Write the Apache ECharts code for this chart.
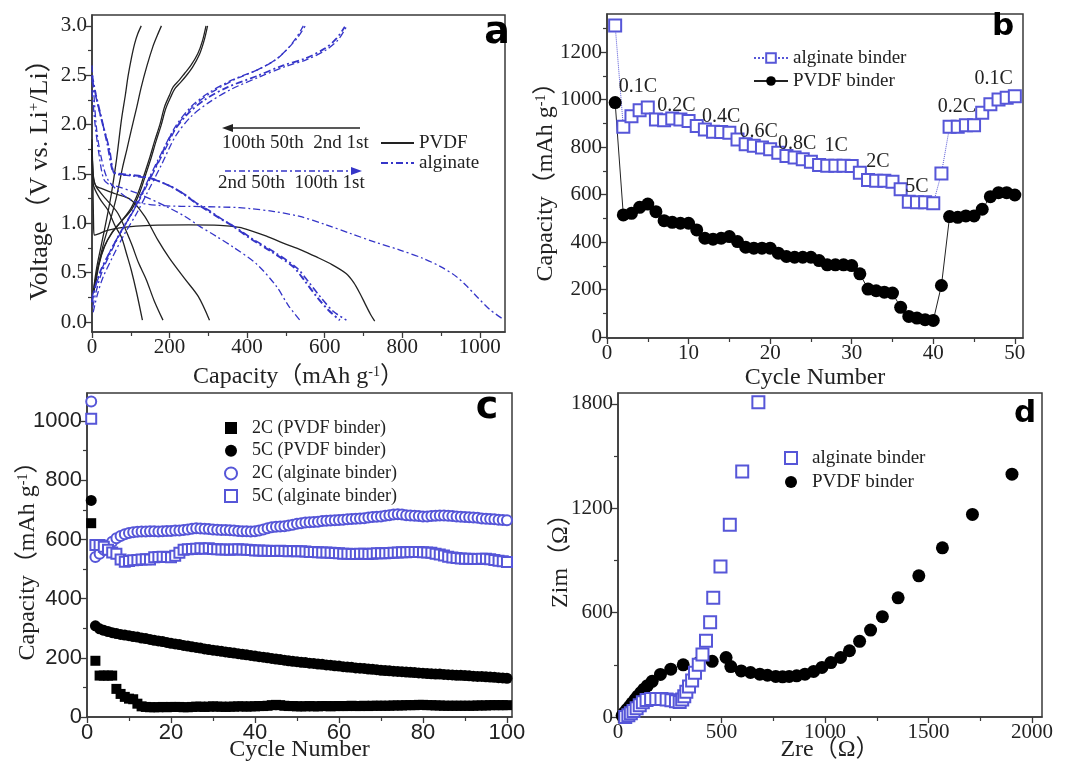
<!DOCTYPE html>
<html><head><meta charset="utf-8">
<script src="https://cdn.jsdelivr.net/npm/echarts@6/dist/echarts.min.js"></script>
<style>html,body{margin:0;padding:0;background:#fff}#c{width:1068px;height:767px}</style>
</head><body><div id="c"></div>
<script>
// ---------- Panel a: voltage profiles [capacity, voltage] ----------
const pvdfD1 = [[0,1.85],[2,1.5],[4,1.0],[6,0.88],[15,0.89],[40,0.93],[80,0.96],[150,0.98],[250,0.985],[330,0.98],[380,0.96],[407,0.93],[450,0.87],[493,0.80],[540,0.73],[579,0.66],[620,0.58],[656,0.49],[675,0.4],[691,0.29],[705,0.18],[718,0.08],[729,0.01]];
const pvdfD2 = [[0,1.8],[3,1.5],[10,1.38],[24,1.355],[60,1.3],[100,1.24],[136,1.07],[170,0.83],[200,0.645],[239,0.44],[274,0.26],[303,0.02]];
const pvdfD50 = [[0,1.75],[4,1.45],[11,1.37],[35,1.25],[67,1.10],[101,0.80],[120,0.6],[140,0.43],[160,0.22],[183,0.02]];
const pvdfD100 = [[0,1.7],[3,1.4],[20,1.25],[41,1.135],[60,0.97],[76,0.86],[90,0.68],[101,0.53],[115,0.3],[130,0.02]];
const pvdfC1 = [[5,0.3],[15,0.55],[30,0.75],[50,0.9],[75,1.02],[100,1.15],[120,1.32],[136,1.51],[150,1.68],[162,1.84],[175,2.0],[187,2.18],[200,2.3],[209,2.38],[225,2.45],[239,2.52],[255,2.6],[273,2.72],[285,2.85],[294,3.0]];
const pvdfC2 = [[8,0.35],[18,0.58],[33,0.77],[53,0.91],[78,1.03],[102,1.14],[122,1.3],[139,1.5],[153,1.67],[165,1.83],[178,1.99],[190,2.16],[203,2.28],[213,2.36],[229,2.43],[244,2.5],[259,2.58],[277,2.71],[289,2.85],[298,3.0]];
const pvdfC50 = [[5,0.35],[15,0.55],[30,0.8],[45,1.0],[62,1.25],[79,1.57],[90,1.75],[101,1.94],[115,2.17],[127,2.38],[142,2.6],[157,2.79],[168,2.9],[179,3.0]];
const pvdfC100 = [[3,0.3],[12,0.55],[25,0.8],[38,1.05],[50,1.3],[63,1.64],[76,2.05],[86,2.3],[93,2.49],[102,2.68],[110,2.82],[118,2.92],[127,3.0]];
const algD1 = [[0,2.6],[5,2.3],[12,1.95],[22,1.7],[40,1.45],[70,1.32],[110,1.22],[180,1.18],[280,1.17],[380,1.16],[407,1.15],[470,1.12],[536,1.07],[600,0.99],[665,0.90],[730,0.81],[794,0.73],[854,0.645],[900,0.56],[940,0.46],[965,0.37],[992,0.26],[1025,0.13],[1060,0.03]];
const algD2 = [[0,2.35],[8,2.0],[18,1.7],[30,1.45],[45,1.39],[60,1.38],[120,1.3],[192,1.17],[240,1.07],[278,0.97],[320,0.87],[364,0.76],[424,0.59],[476,0.36],[506,0.17],[536,0.02]];
const algD50 = [[0,2.5],[10,2.3],[25,2.05],[40,1.8],[52,1.55],[59,1.51],[100,1.49],[149,1.46],[200,1.38],[235,1.30],[270,1.2],[296,1.135],[330,1.05],[364,0.97],[407,0.85],[460,0.72],[519,0.56],[550,0.41],[579,0.26],[610,0.12],[639,0.02]];
const algD100 = [[0,2.45],[12,2.25],[28,2.0],[45,1.75],[55,1.52],[62,1.5],[105,1.48],[155,1.45],[205,1.37],[240,1.29],[275,1.19],[302,1.13],[336,1.04],[370,0.96],[415,0.84],[470,0.71],[528,0.55],[560,0.4],[590,0.25],[622,0.11],[656,0.02]];
const algC1 = [[2,0.15],[10,0.3],[25,0.5],[50,0.72],[80,0.95],[110,1.15],[140,1.4],[175,1.68],[215,1.98],[255,2.18],[300,2.32],[360,2.45],[424,2.55],[470,2.65],[500,2.75],[525,2.87],[545,3.0]];
const algC2 = [[0,0.25],[12,0.4],[30,0.58],[55,0.78],[88,1.0],[120,1.22],[150,1.45],[185,1.72],[225,2.02],[265,2.2],[310,2.33],[370,2.46],[430,2.56],[475,2.66],[505,2.77],[530,2.88],[550,3.0]];
const algC3 = [[0,0.2],[8,0.35],[22,0.52],[45,0.7],[75,0.92],[105,1.12],[135,1.35],[170,1.62],[205,1.9],[245,2.1],[290,2.25],[350,2.38],[424,2.49],[493,2.6],[550,2.67],[600,2.77],[630,2.87],[652,2.99]];
const algC4 = [[3,0.1],[14,0.28],[28,0.45],[52,0.65],[82,0.88],[115,1.1],[145,1.33],[180,1.6],[215,1.88],[255,2.08],[300,2.22],[360,2.36],[430,2.48],[500,2.59],[555,2.66],[605,2.76],[635,2.86],[656,2.99]];

// ---------- Panel b: rate capability ----------
const bAlginate = [1312,885,930,955,966,916,913,920,916,910,888,874,864,863,860,832,812,805,798,791,776,762,756,748,738,724,721,721,721,720,692,661,658,658,654,622,570,567,567,563,689,885,885,892,892,944,980,1000,1007,1014];
const bPVDF = [987,514,521,546,560,528,490,483,479,479,451,416,412,416,423,402,378,374,374,374,353,339,336,336,336,322,304,304,304,301,266,202,195,189,185,125,87,80,73,70,217,507,504,510,510,538,591,608,608,598];
const bRateLabels = ['0.1C','0.2C','0.4C','0.6C','0.8C','1C','2C','5C','0.2C','0.1C'];
const bRateX = [3.8,8.5,14.0,18.6,23.3,28.1,33.2,38.0,42.9,47.4];
const bRateY = [1053,973,926,863,813,804,737,632,968,1086];

// ---------- Panel c: long cycling ----------
const cPVDF2C = [655,190,140,140,140,140,95,78,68,62,60,45,36,34,33,33,33,34,33,34,34,34,33,33,34,35,35,34,35,36,35,35,34,35,35,36,36,35,36,36,37,37,38,40,41,40,38,37,37,36,36,36,37,36,36,37,37,36,37,37,37,37,38,37,37,38,37,38,38,38,38,38,39,39,39,40,40,40,41,41,40,40,39,39,38,38,38,38,38,38,38,38,39,39,39,40,40,40,40,40];
const cPVDF5C = [732,308,298,293,289,285,282,279,277,275,272,270,267,265,262,259,257,255,252,249,247,245,242,240,237,235,233,230,228,226,224,222,220,218,216,214,212,210,208,206,204,202,200,198,196,194,192,190,188,187,185,184,182,181,179,178,176,175,173,172,170,169,168,166,165,164,162,161,160,158,157,156,155,154,153,152,151,150,149,148,147,146,145,145,144,143,142,141,141,140,139,138,137,137,136,135,134,133,132,131];
const cAlg2C = [1066,541,552,565,580,592,604,612,618,622,624,626,627,627,628,628,627,628,629,629,630,630,632,634,636,638,637,636,635,634,633,632,632,631,630,629,628,628,627,628,630,634,638,641,643,644,645,647,650,653,655,657,658,659,660,662,663,664,665,666,667,668,669,670,671,672,674,676,677,678,680,682,684,685,684,682,681,680,679,678,678,679,680,681,681,680,679,678,677,676,675,674,673,671,670,669,668,667,666,665];
const cAlg5C = [1008,581,581,575,565,556,552,532,525,527,530,531,532,533,532,540,541,542,541,540,545,555,565,567,568,569,570,569,570,568,567,566,566,565,566,567,566,565,564,563,563,562,562,561,561,562,561,560,561,560,560,559,558,558,557,556,556,555,554,553,552,552,551,551,552,552,551,552,553,553,553,554,555,556,557,557,558,558,558,557,556,555,552,549,546,542,539,537,536,535,535,534,534,535,535,533,531,528,526,524];

// ---------- Panel d: Nyquist ----------
const dAlgZre = [35,50,62,75,90,105,120,138,160,185,210,235,258,280,298,310,320,330,343,358,372,390,408,425,445,460,495,540,600,678];
const dAlgZim = [0,10,22,35,50,68,85,98,103,104,103,100,96,90,86,100,120,145,175,210,255,300,360,438,545,685,865,1105,1412,1810];
const dPvdfZre = [20,30,42,55,68,82,95,110,125,142,165,205,255,315,390,455,522,545,595,640,685,722,762,795,827,863,903,945,985,1028,1075,1118,1167,1220,1277,1353,1453,1567,1712,1903];
const dPvdfZim = [8,25,42,60,80,100,120,140,160,180,205,245,275,300,313,320,342,290,265,256,246,240,233,231,233,237,246,262,285,313,342,381,435,500,577,685,812,973,1165,1396];

// ---------- tick labels ----------
const aXTicks = [0,200,400,600,800,1000], aXMinor = [100,300,500,700,900];
const aYTicks = [0,0.5,1.0,1.5,2.0,2.5,3.0], aYMinor = [0.25,0.75,1.25,1.75,2.25,2.75];
const bXTicks = [0,10,20,30,40,50], bXMinor = [5,15,25,35,45];
const bYTicks = [0,200,400,600,800,1000,1200], bYMinor = [100,300,500,700,900,1100,1300];
const cXTicks = [0,20,40,60,80,100], cXMinor = [10,30,50,70,90];
const cYTicks = [0,200,400,600,800,1000], cYMinor = [100,300,500,700,900];
const dXTicks = [0,500,1000,1500,2000], dXMinor = [250,750,1250,1750];
const dYTicks = [0,600,1200,1800], dYMinor = [300,900,1500];

const SERIF = "'Liberation Serif','Times New Roman','Noto Sans CJK SC',serif";
const SANS = "'Liberation Sans',Arial,sans-serif";
const AX = '#3a3a3a';
const LBLUE = '#3535c8';
const MBLUE = '#5656d8';
const TXT = '#222';

function rich(sz){ return {t:{fontFamily:SERIF,fontSize:sz,color:TXT},s:{fontFamily:SERIF,fontSize:Math.round(sz*0.58),color:TXT,verticalAlign:'top'}}; }

function mkAxes(dim, g, o){
  const pos = dim==='x' ? 'bottom' : 'left';
  const common = {type:'value', gridIndex:g, min:o.min, max:o.max, position:pos, splitLine:{show:false}};
  const main = Object.assign({}, common, {
    axisLine:{show:true,onZero:false,lineStyle:{color:AX,width:1.5}},
    axisTick:{show:true,inside:false,length:6,customValues:o.major,lineStyle:{color:AX,width:1.3}},
    axisLabel:{show:true,customValues:o.major,formatter:o.fmt,fontFamily:o.font,fontSize:o.size,color:TXT,margin:o.margin||5},
    name:o.name, nameLocation:'middle', nameGap:o.gap, nameRotate:o.rotate||0, nameMoveOverlap:false,
    nameTextStyle:{rich:rich(o.nsize||24)}
  });
  const minor = Object.assign({}, common, {
    axisLine:{show:false,onZero:false},
    axisTick:{show:true,inside:false,length:4,customValues:o.minor,lineStyle:{color:AX,width:1.2}},
    axisLabel:{show:false}
  });
  return [main, minor];
}
const intFmt = v => String(Math.round(v));
const xAxes = [].concat(
  mkAxes('x',0,{min:0,max:1065,major:aXTicks,minor:aXMinor,fmt:intFmt,font:SERIF,size:21,name:'{t|Capacity（mAh g}{s|-1}{t|）}',gap:33}),
  mkAxes('x',1,{min:0,max:51,major:bXTicks,minor:bXMinor,fmt:intFmt,font:SERIF,size:21,name:'{t|Cycle Number}',gap:28}),
  mkAxes('x',2,{min:0,max:101.2,major:cXTicks,minor:cXMinor,fmt:intFmt,font:SANS,size:22,name:'{t|Cycle Number}',gap:21}),
  mkAxes('x',3,{min:0,max:2048,major:dXTicks,minor:dXMinor,fmt:intFmt,font:SERIF,size:21,name:'{t|Zre（Ω）}',gap:21})
);
const yAxes = [].concat(
  mkAxes('y',0,{min:-0.1,max:3.11,major:aYTicks,minor:aYMinor,fmt:v=>v.toFixed(1),font:SERIF,size:21,name:'{t|Voltage（V vs. Li}{s|+}{t|/Li）}',gap:39,rotate:90,nsize:26}),
  mkAxes('y',1,{min:-4,max:1360,major:bYTicks,minor:bYMinor,fmt:intFmt,font:SERIF,size:21,name:'{t|Capacity（mAh g}{s|-1}{t|）}',gap:49,rotate:90}),
  mkAxes('y',2,{min:0,max:1095,major:cYTicks,minor:cYMinor,fmt:intFmt,font:SANS,size:22,name:'{t|Capacity（mAh g}{s|-1}{t|）}',gap:47,rotate:90}),
  mkAxes('y',3,{min:0,max:1863,major:dYTicks,minor:dYMinor,fmt:intFmt,font:SERIF,size:21,name:'{t|Zim（Ω）}',gap:45,rotate:90})
);

const gridBase = {show:true,borderColor:AX,borderWidth:1.5,backgroundColor:'#fff',containLabel:false,outerBoundsMode:'none'};
const grids = [
  Object.assign({left:92,top:15,width:413,height:317},gridBase),
  Object.assign({left:607,top:14,width:416,height:324},gridBase),
  Object.assign({left:87,top:393,width:425,height:324},gridBase),
  Object.assign({left:618,top:393,width:424,height:324},gridBase)
];

function curve(name, data, color, width, type){
  return {type:'line', name, xAxisIndex:0, yAxisIndex:0, data, smooth:0.3, symbol:'none', showSymbol:false,
    lineStyle:{color, width, type}, itemStyle:{color}, silent:true};
}
const DASHDOT = [7,3,2,3];
const series = [
  curve('PVDF', pvdfD1, TXT, 1.3, 'solid'),
  curve('PVDF', pvdfD2, TXT, 1.3, 'solid'),
  curve('PVDF', pvdfD50, TXT, 1.3, 'solid'),
  curve('PVDF', pvdfD100, TXT, 1.3, 'solid'),
  curve('PVDF', pvdfC1, TXT, 1.3, 'solid'),
  curve('PVDF', pvdfC2, TXT, 1.3, 'solid'),
  curve('PVDF', pvdfC50, TXT, 1.3, 'solid'),
  curve('PVDF', pvdfC100, TXT, 1.3, 'solid'),
  curve('alginate', algD1, LBLUE, 1.3, DASHDOT),
  curve('alginate', algD2, LBLUE, 1.3, DASHDOT),
  curve('alginate', algD50, LBLUE, 2, DASHDOT),
  curve('alginate', algD100, LBLUE, 1.6, DASHDOT),
  curve('alginate', algC1, LBLUE, 1.3, DASHDOT),
  curve('alginate', algC2, LBLUE, 1.3, DASHDOT),
  curve('alginate', algC3, LBLUE, 1.8, DASHDOT),
  curve('alginate', algC4, LBLUE, 1.3, DASHDOT)
];
const cyc50 = bAlginate.map((_, i) => i + 1);
series.push({type:'line', name:'alginate binder', xAxisIndex:2, yAxisIndex:2,
  data:bAlginate.map((v,i)=>[cyc50[i],v]), symbol:'emptyRect', symbolSize:12,
  lineStyle:{color:MBLUE,width:1,type:'dotted'}, itemStyle:{color:MBLUE,borderWidth:1.3,opacity:1}, z:3});
series.push({type:'line', name:'PVDF binder', xAxisIndex:2, yAxisIndex:2,
  data:bPVDF.map((v,i)=>[cyc50[i],v]), symbol:'circle', symbolSize:13,
  lineStyle:{color:TXT,width:1}, itemStyle:{color:'#000',opacity:1}, z:3});
series.push({type:'scatter', name:'rates', xAxisIndex:2, yAxisIndex:2, silent:true, z:5,
  data:bRateLabels.map((t,i)=>[bRateX[i],bRateY[i],t]), symbolSize:1, itemStyle:{color:'rgba(0,0,0,0)'},
  label:{show:true,position:'inside',formatter:p=>p.data[2],fontFamily:SERIF,fontSize:20,color:TXT,opacity:1}});

const cyc100 = cPVDF2C.map((_, i) => i + 1);
function cSer(name, arr, symbol, size, color){
  return {type:'scatter', name, xAxisIndex:4, yAxisIndex:4, data:arr.map((v,i)=>[cyc100[i],v]),
    symbol, symbolSize:size, itemStyle:{color, borderWidth:1.2, opacity:1}};
}
series.push(cSer('2C (PVDF binder)', cPVDF2C, 'rect', 10, '#000'));
series.push(cSer('5C (PVDF binder)', cPVDF5C, 'circle', 11, '#000'));
series.push(cSer('2C (alginate binder)', cAlg2C, 'emptyCircle', 10, MBLUE));
series.push(cSer('5C (alginate binder)', cAlg5C, 'emptyRect', 10, MBLUE));

series.push({type:'scatter', name:'alginate binder ', xAxisIndex:6, yAxisIndex:6,
  data:dAlgZre.map((x,i)=>[x,dAlgZim[i]]), symbol:'emptyRect', symbolSize:12, itemStyle:{color:MBLUE,borderWidth:1.3,opacity:1}, z:3});
series.push({type:'scatter', name:'PVDF binder ', xAxisIndex:6, yAxisIndex:6,
  data:dPvdfZre.map((x,i)=>[x,dPvdfZim[i]]), symbol:'circle', symbolSize:13, itemStyle:{color:'#000',opacity:1}, z:2});

const legTxt = sz => ({fontFamily:SERIF,fontSize:sz,color:TXT,lineHeight:20});
const legends = [
  {data:['PVDF','alginate'], orient:'vertical', left:380, top:133, itemWidth:33, itemHeight:10, itemGap:0, padding:0, selectedMode:false, itemStyle:{opacity:0}, textStyle:legTxt(19)},
  {data:['alginate binder','PVDF binder'], orient:'vertical', left:753, top:48, itemWidth:34, itemHeight:12, itemGap:3, padding:0, selectedMode:false, textStyle:legTxt(19)},
  {data:['2C (PVDF binder)','5C (PVDF binder)','2C (alginate binder)','5C (alginate binder)'], orient:'vertical', left:224, top:418, itemWidth:12, itemHeight:12, itemGap:2.7, padding:0, selectedMode:false, textStyle:Object.assign(legTxt(18),{padding:[0,0,0,10]})},
  {data:['alginate binder ','PVDF binder '], orient:'vertical', left:784, top:448, itemWidth:12, itemHeight:12, itemGap:4, padding:0, selectedMode:false, formatter:n=>n.trim(), textStyle:Object.assign(legTxt(19),{padding:[0,0,0,10]})}
];

const letter = (t,x,y,sz) => ({type:'text', x, y, style:{text:t, font:'bold '+sz+'px "DejaVu Sans"', fill:'#000', textAlign:'center', textVerticalAlign:'middle'}, z:50});
const graphics = [
  letter('a',497,33,38), letter('b',1003,27,31), letter('c',487,408,38), letter('d',1025,414,31),
  {type:'line', shape:{x1:230,y1:128,x2:360,y2:128}, style:{stroke:'#222',lineWidth:1.5}, z:50},
  {type:'polygon', shape:{points:[[222,128],[233,124],[233,132]]}, style:{fill:'#222'}, z:50},
  {type:'line', shape:{x1:225,y1:171,x2:354,y2:171}, style:{stroke:LBLUE,lineWidth:1.5,lineDash:[6,3,2,3]}, z:50},
  {type:'polygon', shape:{points:[[362,171],[351,167],[351,175]]}, style:{fill:LBLUE}, z:50},
  {type:'text', x:222, y:143, style:{text:'100th 50th  2nd 1st', font:'19px '+SERIF, fill:TXT, textVerticalAlign:'middle'}, z:50},
  {type:'text', x:218, y:183, style:{text:'2nd 50th  100th 1st', font:'19px '+SERIF, fill:TXT, textVerticalAlign:'middle'}, z:50}
];

const chart = echarts.init(document.getElementById('c'), null, {renderer:'canvas'});
chart.setOption({
  animation:false, backgroundColor:'#fff',
  grid:grids, xAxis:xAxes, yAxis:yAxes, legend:legends, series, graphic:graphics
});
</script></body></html>
